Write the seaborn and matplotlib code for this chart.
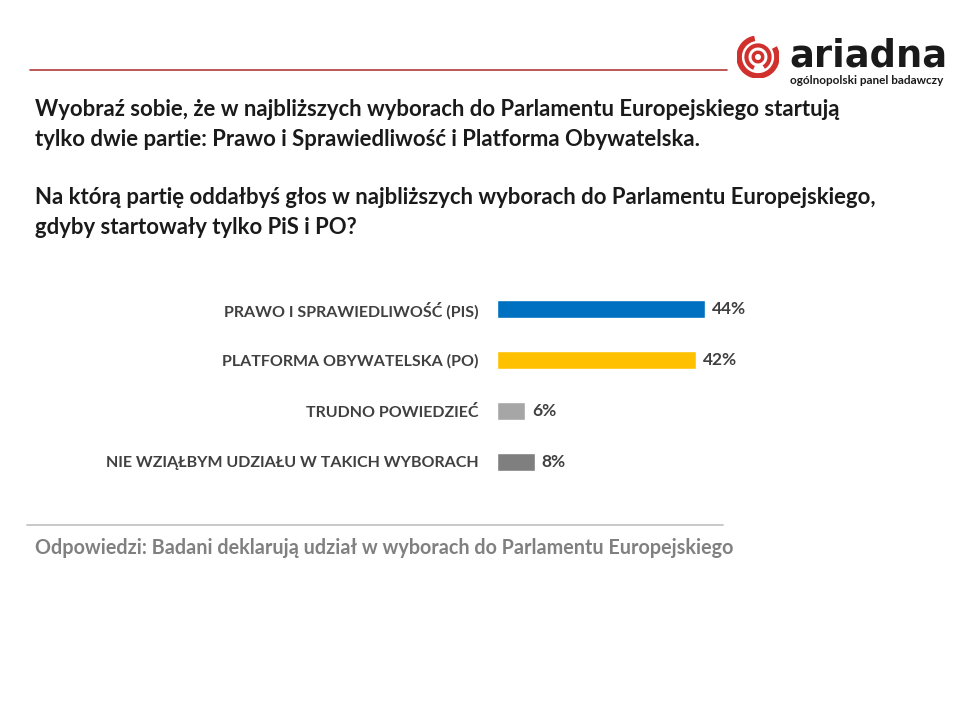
import matplotlib
matplotlib.use("Agg")
import matplotlib.pyplot as plt
import seaborn as sns
import pandas as pd
from matplotlib.patches import Arc
from matplotlib.lines import Line2D

# ---------------- Data ---------------- #
categories = [
    "PRAWO I SPRAWIEDLIWOŚĆ (PIS)",
    "PLATFORMA OBYWATELSKA (PO)",
    "TRUDNO POWIEDZIEĆ",
    "NIE WZIĄŁBYM UDZIAŁU W TAKICH WYBORACH",
]
values = [44, 42, 6, 8]
bar_colors = ["#0070C0", "#FFC000", "#A6A6A6", "#7F7F7F"]

title_lines = [
    "Wyobraź sobie, że w najbliższych wyborach do Parlamentu Europejskiego startują",
    "tylko dwie partie: Prawo i Sprawiedliwość i Platforma Obywatelska.",
    "Na którą partię oddałbyś głos w najbliższych wyborach do Parlamentu Europejskiego,",
    "gdyby startowały tylko PiS i PO?",
]
footer = "Odpowiedzi: Badani deklarują udział w wyborach do Parlamentu Europejskiego"

df = pd.DataFrame({"kategoria": categories, "procent": values})

# ---------------- Figure ---------------- #
sns.set_style("white")
plt.rcParams["font.family"] = ["Lato", "DejaVu Sans"]

W, H = 960, 720
fig = plt.figure(figsize=(9.6, 7.2), dpi=100)


def px(x, y):
    return x / W, 1 - y / H


# chart axes: bars start at x=497, 4.73 px per percent
ax = fig.add_axes([497 / W, 1 - 487.5 / H, 236.5 / W, 204 / H])
sns.barplot(data=df, x="procent", y="kategoria", hue="kategoria",
            palette=bar_colors, orient="h", width=0.37, legend=False,
            saturation=1, ax=ax)
ax.set_xlim(0, 50)
ax.set_ylim(3.5, -0.5)
ax.set_xlabel("")
ax.set_ylabel("")
ax.set_xticks([])
sns.despine(ax=ax, left=True, bottom=True)
ax.tick_params(axis="y", length=0, pad=13.5)
for lab in ax.get_yticklabels():
    lab.set_fontsize(11.5)
    lab.set_fontweight("bold")
    lab.set_color("#404040")
for cont in ax.containers:
    ax.bar_label(cont, fmt="%d%%", padding=5, fontsize=12.5,
                 fontweight="bold", color="#404040")

# title text
ys = [110, 140, 198, 228]
for line, y in zip(title_lines, ys):
    fig.text(*px(35, y), line, fontsize=15.9, fontweight="bold",
             color="#1a1a1a", va="center", ha="left")

# footer
fig.text(*px(35, 548), footer, fontsize=14.2, fontweight="bold",
         color="#808080", va="center", ha="left")

# rules
fig.add_artist(Line2D([30 / W, 727 / W], [1 - 70 / H] * 2,
                      color="#B03A3A", lw=1.2))
fig.add_artist(Line2D([27 / W, 723 / W], [1 - 525 / H] * 2,
                      color="#BFBFBF", lw=1.2))

# logo
lax = fig.add_axes([737 / W, 1 - 78 / H, 42 / W, 42 / H])
lax.set_xlim(-1, 1)
lax.set_ylim(-1, 1)
lax.set_aspect("equal")
lax.axis("off")
red = "#D0312D"
lax.add_patch(Arc((0, 0), 1.8, 1.8, theta1=100, theta2=390, lw=4, color=red))
lax.add_patch(Arc((0, 0), 1.1, 1.1, theta1=-60, theta2=250, lw=3, color=red))
lax.add_patch(Arc((0, 0), 0.45, 0.45, theta1=0, theta2=360, lw=2.5, color=red))
fig.text(*px(789, 56), "ariadna", fontsize=26.5, fontweight="bold",
         family="DejaVu Sans", color="#1a1a1a", va="center", ha="left")
fig.text(*px(790, 81), "ogólnopolski panel badawczy", fontsize=8.5,
         fontweight="bold", color="#1a1a1a", va="center", ha="left")

fig.savefig("out.png", dpi=100)
